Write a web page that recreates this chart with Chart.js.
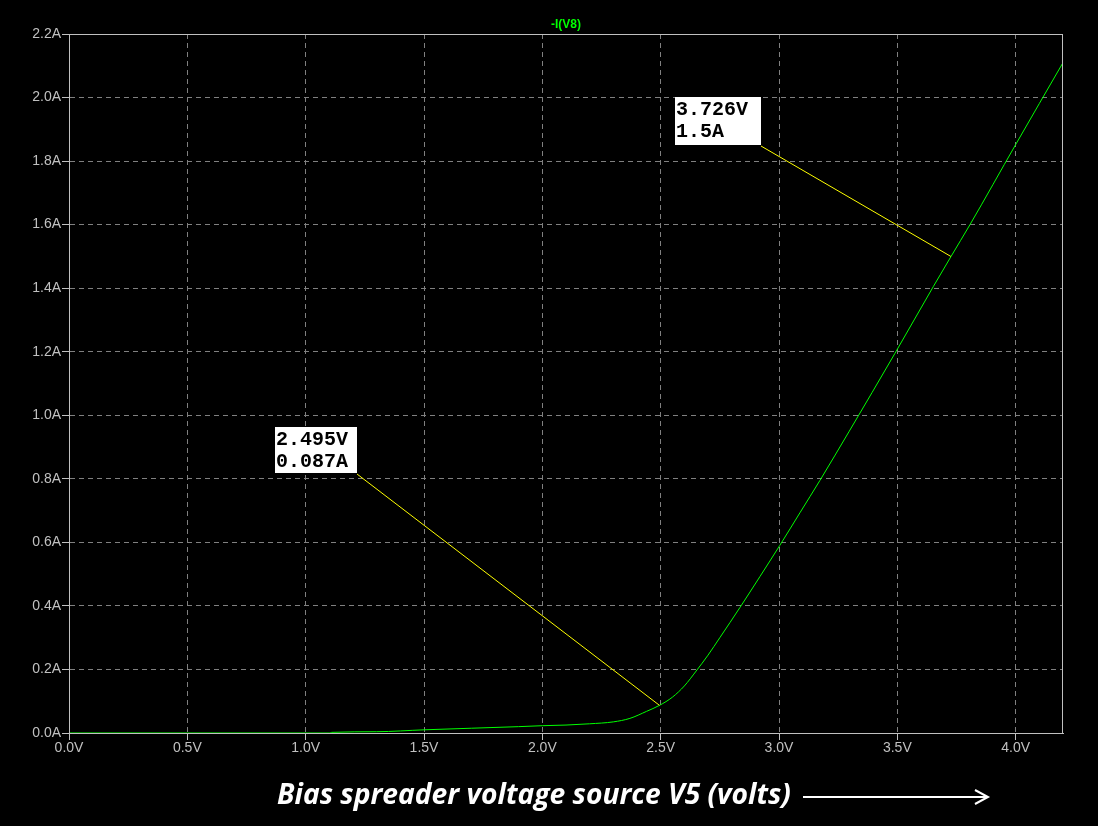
<!DOCTYPE html>
<html>
<head>
<meta charset="utf-8">
<script src="https://cdn.jsdelivr.net/npm/chart.js@4.4.1/dist/chart.umd.min.js"></script>
<style>
  html, body { margin: 0; padding: 0; background: #000; }
  #wrap { width: 1098px; height: 826px; }
</style>
</head>
<body>
<div id="wrap"><canvas id="ivChart" width="1098" height="826"></canvas></div>
<script>
// bias voltage (V) and -I(V8) (A)
const voltage = [0, 1.1, 1.11, 1.3, 1.5, 1.7, 1.9, 2.0, 2.1, 2.2, 2.3, 2.37, 2.44, 2.495,
  2.55, 2.6, 2.65, 2.7, 2.75, 2.835, 2.92, 3.003, 3.09, 3.173, 3.297, 3.49, 3.652, 3.727, 3.807, 4.0, 4.2];
const current = [0, 0, 0.002, 0.004, 0.010, 0.015, 0.020, 0.023, 0.025, 0.029, 0.035, 0.046, 0.068, 0.087,
  0.113, 0.148, 0.195, 0.245, 0.30, 0.395, 0.493, 0.59, 0.695, 0.795, 0.95, 1.195, 1.405, 1.50, 1.60, 1.852, 2.11];

const xTicks = [0, 0.5, 1.0, 1.5, 2.0, 2.5, 3.0, 3.5, 4.0];
const yTicks = [0, 0.2, 0.4, 0.6, 0.8, 1.0, 1.2, 1.4, 1.6, 1.8, 2.0, 2.2];

// cursor readouts
const cursorV = [2.495, 3.726];
const cursorI = [0.087, 1.5];
const cursorText = [["2.495V", "0.087A"], ["3.726V", "1.5A"]];

const traceName = "-I(V8)";
const xTitle = "Bias spreader voltage source V5 (volts)";

const points = voltage.map((v, i) => ({ x: v, y: current[i] }));

// where each readout box sits (top-left, pixels) and its size
const boxes = [
  { left: 275, top: 427, w: 82, h: 46 },
  { left: 675, top: 97, w: 86, h: 48 }
];

const spicePlugin = {
  id: 'spiceExtras',
  beforeDraw(chart) {
    const ctx = chart.ctx;
    ctx.save();
    ctx.fillStyle = '#000';
    ctx.fillRect(0, 0, chart.width, chart.height);
    ctx.restore();
  },
  afterDraw(chart) {
    const ctx = chart.ctx;
    const a = chart.chartArea;
    const xs = chart.scales.x, ys = chart.scales.y;
    ctx.save();

    // frame
    ctx.strokeStyle = '#c0c0c0';
    ctx.lineWidth = 1;
    ctx.strokeRect(Math.round(a.left) + 0.5, Math.round(a.top) + 0.5,
      Math.round(a.right - a.left) - 1, Math.round(a.bottom - a.top));

    // trace name
    ctx.fillStyle = '#00ff00';
    ctx.font = 'bold 12px "Liberation Sans"';
    ctx.textAlign = 'center';
    ctx.textBaseline = 'middle';
    ctx.fillText(traceName, (a.left + a.right) / 2, 25);

    // cursor readouts
    cursorV.forEach((v, i) => {
      const b = boxes[i];
      const px = xs.getPixelForValue(v);
      const py = ys.getPixelForValue(cursorI[i]);
      ctx.strokeStyle = '#ffff00';
      ctx.lineWidth = 1;
      ctx.beginPath();
      ctx.moveTo(b.left + b.w, b.top + b.h + 1);
      ctx.lineTo(px, py);
      ctx.stroke();

      ctx.fillStyle = '#ffffff';
      ctx.fillRect(b.left, b.top, b.w, b.h);
      ctx.fillStyle = '#000000';
      ctx.font = 'bold 20px "Liberation Mono"';
      ctx.textAlign = 'left';
      ctx.textBaseline = 'alphabetic';
      ctx.fillText(cursorText[i][0], b.left + 1, b.top + 18);
      ctx.fillText(cursorText[i][1], b.left + 1, b.top + 40);
    });

    // x axis caption with arrow
    let size = 24;
    ctx.font = 'italic 700 ' + size + 'px "Open Sans"';
    const w = ctx.measureText(xTitle).width;
    size = size * 514 / w;
    ctx.font = 'italic 700 ' + size.toFixed(2) + 'px "Open Sans"';
    ctx.fillStyle = '#ffffff';
    ctx.textAlign = 'left';
    ctx.textBaseline = 'middle';
    ctx.fillText(xTitle, 277, 796);

    ctx.strokeStyle = '#ffffff';
    ctx.lineWidth = 2;
    ctx.beginPath();
    ctx.moveTo(803, 797);
    ctx.lineTo(988, 797);
    ctx.moveTo(975, 790);
    ctx.lineTo(988, 797);
    ctx.lineTo(975, 804);
    ctx.stroke();

    ctx.restore();
  }
};

const ivChart = new Chart(document.getElementById('ivChart'), {
  type: 'scatter',
  data: {
    datasets: [{
      label: traceName,
      data: points,
      showLine: true,
      borderColor: '#00ff00',
      borderWidth: 1,
      pointRadius: 0,
      cubicInterpolationMode: 'monotone'
    }]
  },
  options: {
    responsive: false,
    animation: false,
    layout: { padding: { top: 34, right: 35, left: 0, bottom: 0 } },
    plugins: {
      legend: { display: false },
      title: { display: false },
      tooltip: { enabled: false }
    },
    scales: {
      x: {
        type: 'linear',
        min: 0,
        max: 4.2,
        afterBuildTicks: (scale) => { scale.ticks = xTicks.map(v => ({ value: v })); },
        afterFit: (scale) => { scale.height = 93; },
        ticks: {
          color: '#c0c0c0',
          font: { family: 'Liberation Sans', size: 14 },
          padding: 0,
          maxRotation: 0,
          callback: (v) => v.toFixed(1) + 'V'
        },
        grid: { color: '#808080', tickColor: '#c0c0c0', tickLength: 7, tickBorderDash: [] },
        border: { color: '#c0c0c0', width: 1, dash: [5, 4] }
      },
      y: {
        type: 'linear',
        min: 0,
        max: 2.2,
        afterBuildTicks: (scale) => { scale.ticks = yTicks.map(v => ({ value: v })); },
        afterFit: (scale) => { scale.width = 69; },
        ticks: {
          color: '#c0c0c0',
          font: { family: 'Liberation Sans', size: 14 },
          padding: 1,
          callback: (v) => v.toFixed(1) + 'A'
        },
        grid: { color: '#808080', tickColor: '#c0c0c0', tickLength: 7, tickBorderDash: [] },
        border: { color: '#c0c0c0', width: 1, dash: [5, 4] }
      }
    }
  },
  plugins: [spicePlugin]
});
</script>
</body>
</html>
